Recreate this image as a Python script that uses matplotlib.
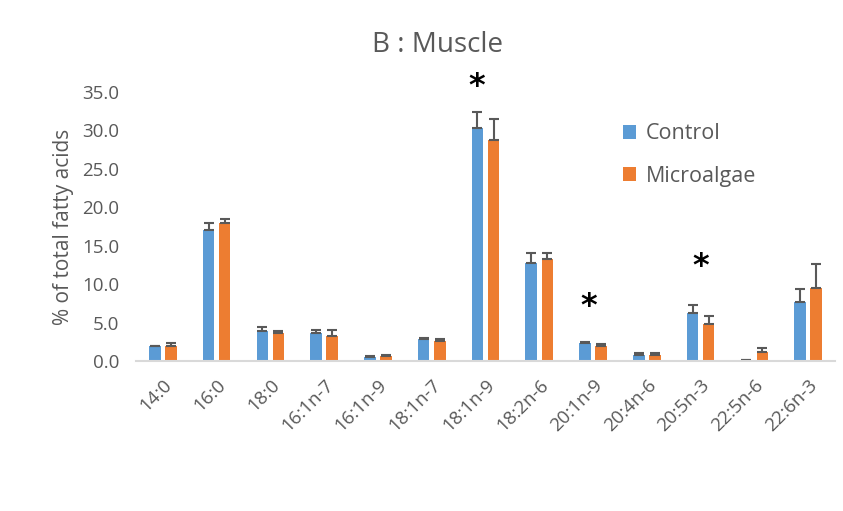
import numpy as np
import matplotlib
matplotlib.use("Agg")
import matplotlib.pyplot as plt

plt.rcParams['font.family'] = ['Open Sans', 'DejaVu Sans']

# fatty acid composition of muscle, % of total fatty acids
acids = ["14:0", "16:0", "18:0", "16:1n-7", "16:1n-9", "18:1n-7", "18:1n-9",
         "18:2n-6", "20:1n-9", "20:4n-6", "20:5n-3", "22:5n-6", "22:6n-3"]
control = [1.9, 17.1, 3.9, 3.6, 0.5, 2.8, 30.3, 12.7, 2.3, 0.8, 6.2, 0.1, 7.7]
control_err = [0.1, 0.9, 0.5, 0.4, 0.1, 0.15, 2.1, 1.35, 0.2, 0.2, 1.1, 0.05, 1.65]
algae = [2.0, 18.0, 3.6, 3.3, 0.6, 2.6, 28.7, 13.3, 2.0, 0.8, 4.8, 1.2, 9.45]
algae_err = [0.3, 0.5, 0.3, 0.7, 0.2, 0.2, 2.8, 0.75, 0.2, 0.2, 1.05, 0.5, 3.2]

# significance marks: category index, x offset, height
star_idx = [6, 8, 10]
star_dx = [-0.16, -0.08, 0.0]
star_y = [35.7, 7.1, 12.3]

blue = "#5B9BD5"
orange = "#ED7D31"
grey_txt = "#595959"

fig = plt.figure(figsize=(8.43, 5.11), dpi=100)
ax = fig.add_axes([136 / 843, 1 - 361 / 511, 699 / 843, 269 / 511])

x = np.arange(len(acids))
w = 0.215
off = 0.15
err_kw = dict(ecolor=grey_txt, elinewidth=1.5, capsize=3.8, capthick=1.5)
ax.bar(x - off, control, w, color=blue, label="Control",
       yerr=[np.zeros(len(x)), control_err], error_kw=err_kw)
ax.bar(x + off, algae, w, color=orange, label="Microalgae",
       yerr=[np.zeros(len(x)), algae_err], error_kw=err_kw)

for i, dx, yy in zip(star_idx, star_dx, star_y):
    ax.text(i + dx, yy, "*", ha="center", va="center", fontsize=23,
            fontweight="bold", color="black", clip_on=False,
            family="DejaVu Sans")

ax.set_xlim(-0.5, len(acids) - 0.5)
ax.set_ylim(0, 35)
ax.set_yticks(np.arange(0, 35.1, 5))
ax.set_yticklabels(["%.1f" % v for v in np.arange(0, 35.1, 5)])
ax.set_xticks(x)
ax.set_xticklabels(acids, rotation=45, ha="right", rotation_mode="anchor")

for s in ["top", "right", "left"]:
    ax.spines[s].set_visible(False)
ax.spines["bottom"].set_color("#D9D9D9")
ax.spines["bottom"].set_linewidth(1.5)
ax.tick_params(axis="both", length=0, colors=grey_txt, labelsize=13.5)
ax.tick_params(axis="y", pad=12)
ax.tick_params(axis="x", pad=11)

ax.set_ylabel("% of total fatty acids", color=grey_txt, fontsize=15,
              labelpad=6)
fig.text(437 / 843, 1 - 45 / 511, "B : Muscle", ha="center", va="center",
         fontsize=20, color=grey_txt)

leg = ax.legend(loc="upper left", bbox_to_anchor=(604 / 843, 1 - 104 / 511),
                bbox_transform=fig.transFigure, frameon=False, fontsize=15.5,
                handlelength=0.6, handleheight=0.6, handletextpad=0.45,
                labelspacing=1.0)
for t in leg.get_texts():
    t.set_color(grey_txt)

fig.savefig("out.png", dpi=100)
